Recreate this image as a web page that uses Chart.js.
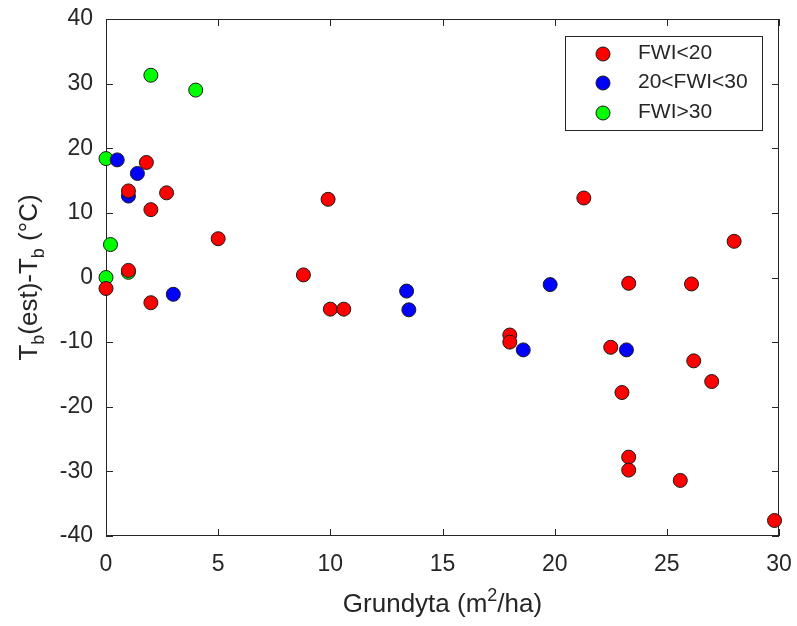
<!DOCTYPE html>
<html>
<head>
<meta charset="utf-8">
<script src="https://cdn.jsdelivr.net/npm/chart.js@4/dist/chart.umd.min.js"></script>
<style>
  html, body { margin: 0; padding: 0; background: #fff; }
  #wrap { width: 797px; height: 626px; }
</style>
</head>
<body>
<div id="wrap"><canvas id="c" width="797" height="626"></canvas></div>
<script>
// basal area (m2/ha) vs. Tb(est)-Tb, grouped by fire weather index
const lowX  = [1.8, 1.0, 2.7, 2.0, 9.9, 5.0, 1.0, 0.0, 2.0, 8.8, 10.0, 10.6, 21.3, 28.0, 23.3, 26.1, 18.0, 18.0, 22.5, 26.2, 27.0, 23.0, 23.3, 23.3, 25.6, 29.8];
const lowY  = [17.8, 13.4, 13.1, 10.5, 12.1, 6.0, 1.1, -1.7, -3.9, 0.4, -4.9, -4.9, 12.3, 5.6, -0.9, -1.0, -8.9, -10.0, -10.8, -12.9, -16.1, -17.8, -27.8, -29.8, -31.4, -37.6];
const midX  = [0.5, 1.4, 1.0, 3.0, 13.4, 13.5, 19.8, 18.6, 23.2];
const midY  = [18.2, 16.1, 12.6, -2.6, -2.1, -5.0, -1.1, -11.2, -11.2];
const highX = [2.0, 4.0, 0.0, 0.2, 1.0, 0.0];
const highY = [31.3, 29.0, 18.4, 5.1, 0.8, 0.0];

const groupNames  = ['FWI<20', '20<FWI<30', 'FWI>30'];
const groupColors = ['#ff0000', '#0000ff', '#00ff00'];

const FONT = '"Liberation Sans", Arial, sans-serif';
const INK = '#262626';

const pts = (xs, ys) => xs.map((x, i) => ({ x, y: ys[i] }));

const mkSet = (i, data) => ({
  label: groupNames[i], data,
  backgroundColor: groupColors[i], borderColor: '#1a1a1a', borderWidth: 1,
  pointRadius: 7, pointHoverRadius: 7, clip: false
});

// box with inward ticks on all four sides (matlab style)
const frame = {
  id: 'frame',
  beforeDatasetsDraw(chart) {
    const { ctx, chartArea: a, scales: { x, y } } = chart;
    const tl = 7;
    ctx.save();
    ctx.strokeStyle = INK; ctx.lineWidth = 1;
    ctx.strokeRect(a.left + .5, a.top + .5, a.right - a.left - 1, a.bottom - a.top - 1);
    ctx.beginPath();
    x.ticks.forEach(t => {
      const px = Math.round(x.getPixelForValue(t.value)) + .5;
      ctx.moveTo(px, a.bottom); ctx.lineTo(px, a.bottom - tl);
      ctx.moveTo(px, a.top); ctx.lineTo(px, a.top + tl);
    });
    y.ticks.forEach(t => {
      const py = Math.round(y.getPixelForValue(t.value)) + .5;
      ctx.moveTo(a.left, py); ctx.lineTo(a.left + tl, py);
      ctx.moveTo(a.right, py); ctx.lineTo(a.right - tl, py);
    });
    ctx.stroke();
    ctx.restore();
  },
  afterDraw(chart) {
    const { ctx, chartArea: a } = chart;
    ctx.save();
    ctx.fillStyle = INK;

    // x title with superscript
    const big = 26, small = 18;
    const parts = [['Grundyta (m', big, 0], ['2', small, -11], ['/ha)', big, 0]];
    const w = parts.reduce((s, p) => { ctx.font = `${p[1]}px ${FONT}`; return s + ctx.measureText(p[0]).width; }, 0);
    let cx = (a.left + a.right) / 2 - w / 2;
    ctx.textBaseline = 'alphabetic';
    parts.forEach(p => {
      ctx.font = `${p[1]}px ${FONT}`;
      ctx.fillText(p[0], cx, 612 + p[2]);
      cx += ctx.measureText(p[0]).width;
    });

    // y title, rotated, with subscripts
    const yparts = [['T', big, 0], ['b', small, 7], ['(est)-T', big, 0], ['b', small, 7], [' (\u00B0C)', big, 0]];
    const yw = yparts.reduce((s, p) => { ctx.font = `${p[1]}px ${FONT}`; return s + ctx.measureText(p[0]).width; }, 0);
    ctx.save();
    ctx.translate(37, (a.top + a.bottom) / 2);
    ctx.rotate(-Math.PI / 2);
    let lx = -yw / 2;
    yparts.forEach(p => {
      ctx.font = `${p[1]}px ${FONT}`;
      ctx.fillText(p[0], lx, p[2]);
      lx += ctx.measureText(p[0]).width;
    });
    ctx.restore();

    // legend box
    const L = 565, T = 36, R = 763, B = 131;
    ctx.fillStyle = '#fff';
    ctx.fillRect(L, T, R - L, B - T);
    ctx.strokeStyle = INK; ctx.lineWidth = 1;
    ctx.strokeRect(L + .5, T + .5, R - L - 1, B - T - 1);
    const rows = [54, 83, 113];
    chart.data.datasets.forEach((ds, i) => {
      ctx.beginPath();
      ctx.arc(603, rows[i], 7, 0, Math.PI * 2);
      ctx.fillStyle = ds.backgroundColor; ctx.fill();
      ctx.strokeStyle = ds.borderColor; ctx.stroke();
      ctx.fillStyle = INK;
      ctx.font = `21px ${FONT}`;
      ctx.textBaseline = 'middle';
      ctx.fillText(ds.label, 638, rows[i] - 1);
    });
    ctx.restore();
  }
};

const tickStyle = { color: INK, font: { family: FONT, size: 23 } };

// fixed axis boxes; drop the edge-label padding so the plot box stays put
const pinX = s => { s.height = 90; s.paddingLeft = 0; s.paddingRight = 0; };
const pinY = s => { s.width = 106; s.paddingTop = 0; s.paddingBottom = 0; };

new Chart(document.getElementById('c'), {
  type: 'scatter',
  data: {
    datasets: [mkSet(0, pts(lowX, lowY)), mkSet(1, pts(midX, midY)), mkSet(2, pts(highX, highY))]
  },
  options: {
    responsive: false, animation: false, events: [],
    layout: { padding: { top: 19, right: 18, left: 0, bottom: 0 } },
    plugins: { legend: { display: false }, tooltip: { enabled: false } },
    scales: {
      x: {
        type: 'linear', min: 0, max: 30,
        ticks: { ...tickStyle, stepSize: 5, padding: 15, maxRotation: 0 },
        grid: { display: false, drawTicks: false }, border: { display: false },
        afterFit: pinX
      },
      y: {
        type: 'linear', min: -40, max: 40,
        ticks: { ...tickStyle, stepSize: 10, padding: 13 },
        grid: { display: false, drawTicks: false }, border: { display: false },
        afterFit: pinY
      }
    }
  },
  plugins: [frame]
});
</script>
</body>
</html>
